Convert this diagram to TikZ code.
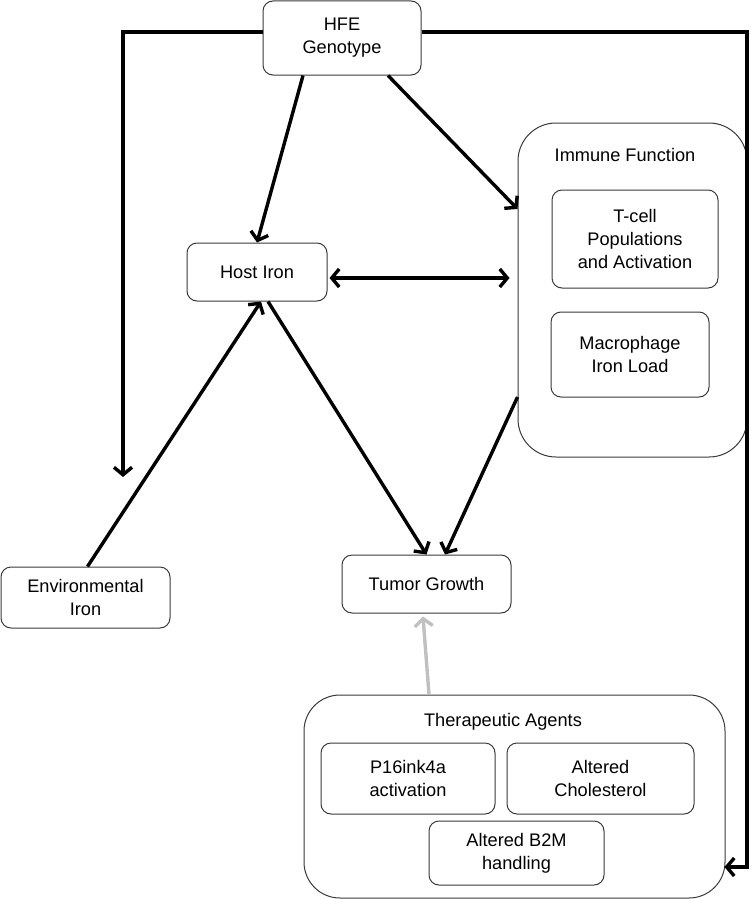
\documentclass[tikz,border=0pt]{standalone}
\usepackage{fontspec}
\setmainfont{Liberation Sans}
\usetikzlibrary{arrows.meta}
\definecolor{boxline}{HTML}{3A3A3A}
\definecolor{grayarrow}{HTML}{C0C0C0}
\begin{document}
\begin{tikzpicture}[x=1pt,y=-1pt,
  box/.style={draw=boxline,line width=1pt,rounded corners=10pt,fill=white,
    align=center,inner sep=0pt,font=\fontsize{18.2}{23}\selectfont},
  bigbox/.style={box,rounded corners=38pt},
  lbl/.style={inner sep=0pt,font=\fontsize{18.2}{23}\selectfont},
  arr/.style={line width=3.4pt,-{Straight Barb[length=7.5pt,width=18pt]}},
  darr/.style={line width=3.4pt,{Straight Barb[length=7.5pt,width=18pt]}-{Straight Barb[length=7.5pt,width=18pt]}}
]
\useasboundingbox (0,0) rectangle (751,899);
% nodes
\node[box,minimum width=158pt,minimum height=74pt] (HFE) at (342,38) {HFE\\Genotype};
\node[box,minimum width=140pt,minimum height=58pt] (Host) at (257,272) {Host Iron};
\node[bigbox,minimum width=229pt,minimum height=334pt] (Imm) at (632.5,290) {};
\node[lbl] (ImmT) at (625,155) {Immune Function};
\node[box,minimum width=166pt,minimum height=98pt] (Tcell) at (635,239) {T-cell\\Populations\\and Activation};
\node[box,minimum width=158pt,minimum height=85pt] (Mac) at (630,354.5) {Macrophage\\Iron Load};
\node[box,minimum width=169pt,minimum height=61pt] (Env) at (85.5,597.5) {Environmental\\Iron};
\node[box,minimum width=169pt,minimum height=58pt] (Tum) at (426.5,584) {Tumor Growth};
\node[bigbox,rounded corners=36pt,minimum width=421pt,minimum height=203pt] (Ther) at (514.5,796.5) {};
\node[lbl] (TherT) at (503,722) {Therapeutic Agents};
\node[box,minimum width=174pt,minimum height=71pt] (P16) at (408,778.5) {P16ink4a\\activation};
\node[box,minimum width=187pt,minimum height=71pt] (Chol) at (600.5,778.5) {Altered\\Cholesterol};
\node[box,minimum width=175pt,minimum height=64pt] (B2M) at (516.5,853) {Altered B2M\\handling};
% free ends
\coordinate (envtop) at (123,477);
\coordinate (rc) at (747,867);
% connectors
\draw[arr] ([yshift=6pt]HFE.west) -| (envtop);
\draw[arr] ([yshift=6pt]HFE.east) -| (rc) -- ([xshift=-1pt]Ther.east |- rc);
\draw[arr] ([xshift=-39pt]HFE.south) -- (Host.north);
\draw[arr] ([xshift=46pt]HFE.south) -- ([yshift=81pt]Imm.west);
\draw[darr] ([xshift=2pt,yshift=-6pt]Host.east) -- ([xshift=-8pt,yshift=12pt]Imm.west);
\draw[arr] ([xshift=2pt]Env.north) -- ([xshift=4pt]Host.south);
\draw[arr] ([xshift=11pt]Host.south) -- (Tum.north);
\draw[arr] ([yshift=-107pt]Imm.west) -- ([xshift=18.5pt]Tum.north);
\draw[arr,draw=grayarrow] ([xshift=-85.5pt]Ther.north) -- ([xshift=-3.5pt,yshift=-3pt]Tum.south);
\end{tikzpicture}
\end{document}
